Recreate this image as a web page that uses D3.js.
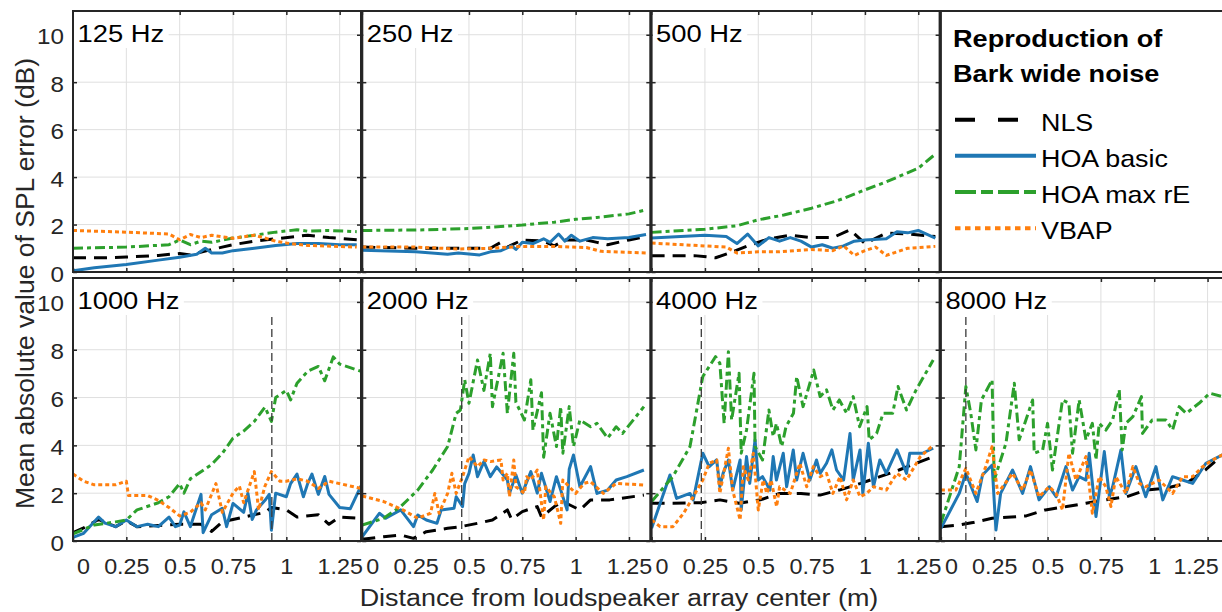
<!DOCTYPE html>
<html>
<head>
<meta charset="utf-8">
<script src="https://cdn.jsdelivr.net/npm/d3@7"></script>
<style>
  body { margin: 0; background: #fff; }
  svg { display: block; }
</style>
</head>
<body>
<svg id="chart" width="1222" height="612"></svg>
<script>
// ---- data (x in m, y in dB) ----
const freqLabels = ["125 Hz", "250 Hz", "500 Hz", "1000 Hz", "2000 Hz", "4000 Hz", "8000 Hz"];
const seriesNames = ["NLS", "HOA basic", "HOA max rE", "VBAP"];
const xTicks = [0, 0.25, 0.5, 0.75, 1, 1.25];
const yTicks = [0, 2, 4, 6, 8, 10];
const markerX = [0.932, 0.466, 0.233, 0.117]; // 1000..8000 Hz

const nls125 = [[0,0.6],[0.15,0.6],[0.25,0.63],[0.4,0.7],[0.5,0.78],[0.55,0.72],[0.65,0.95],[0.75,1.15],[0.85,1.3],[0.95,1.4],[1.05,1.5],[1.1,1.55],[1.2,1.45],[1.33,1.36]];
const hoa125 = [[0,0.05],[0.1,0.18],[0.25,0.32],[0.4,0.5],[0.5,0.62],[0.58,0.75],[0.62,1.0],[0.65,0.8],[0.7,0.8],[0.75,0.9],[0.85,1.0],[0.95,1.12],[1.05,1.2],[1.15,1.2],[1.25,1.15],[1.33,1.15]];
const hoaRe125 = [[0,1.0],[0.25,1.05],[0.45,1.15],[0.5,1.35],[0.55,1.15],[0.6,1.3],[0.65,1.25],[0.75,1.43],[0.85,1.55],[0.95,1.68],[1.05,1.78],[1.1,1.72],[1.2,1.75],[1.33,1.7]];
const vbap125 = [[0,1.75],[0.25,1.68],[0.45,1.6],[0.5,1.36],[0.55,1.58],[0.6,1.45],[0.65,1.55],[0.75,1.42],[0.85,1.55],[0.9,1.43],[0.95,1.3],[1.0,1.22],[1.1,1.12],[1.33,1.05]];

const nls250 = [[0,1.05],[0.25,1.0],[0.45,1.0],[0.6,1.0],[0.65,1.25],[0.68,1.05],[0.75,1.35],[0.85,1.3],[0.9,1.1],[0.95,1.35],[1.05,1.35],[1.1,1.25],[1.15,1.15],[1.25,1.35],[1.33,1.5]];
const hoa250 = [[0,0.92],[0.25,0.85],[0.4,0.75],[0.45,0.8],[0.55,0.72],[0.6,0.85],[0.65,0.9],[0.7,1.1],[0.72,0.95],[0.75,1.25],[0.8,1.2],[0.85,1.4],[0.88,1.25],[0.92,1.6],[0.95,1.3],[0.98,1.55],[1.02,1.3],[1.08,1.45],[1.15,1.4],[1.25,1.45],[1.33,1.58]];
const hoaRe250 = [[0,1.75],[0.25,1.77],[0.5,1.83],[0.75,1.98],[0.9,2.1],[1.0,2.22],[1.1,2.3],[1.25,2.45],[1.33,2.62]];
const vbap250 = [[0,1.05],[0.25,1.05],[0.45,0.97],[0.6,1.0],[0.75,1.08],[0.9,1.08],[1.05,1.03],[1.12,0.87],[1.33,0.8]];

const nls500 = [[0,0.69],[0.2,0.69],[0.3,0.6],[0.38,0.85],[0.45,1.1],[0.55,1.4],[0.65,1.55],[0.75,1.45],[0.85,1.45],[0.93,1.78],[1.0,1.2],[1.1,1.64],[1.2,1.6],[1.33,1.5]];
const hoa500 = [[0,1.43],[0.25,1.55],[0.35,1.5],[0.4,1.2],[0.45,1.6],[0.5,1.1],[0.55,1.45],[0.6,1.3],[0.65,1.45],[0.7,1.3],[0.75,1.05],[0.8,1.15],[0.85,1.0],[0.9,1.1],[0.95,1.3],[1.0,1.35],[1.1,1.4],[1.15,1.7],[1.2,1.65],[1.25,1.75],[1.33,1.43]];
const hoaRe500 = [[0,1.67],[0.25,1.8],[0.4,1.95],[0.5,2.2],[0.62,2.4],[0.75,2.69],[0.87,3.0],[1.0,3.46],[1.1,3.8],[1.25,4.37],[1.33,4.97]];
const vbap500 = [[0,1.22],[0.25,1.1],[0.35,1.05],[0.4,0.8],[0.5,0.85],[0.6,0.85],[0.75,0.95],[0.85,0.9],[0.9,1.1],[0.95,0.7],[1.0,0.9],[1.05,1.05],[1.1,0.7],[1.2,1.0],[1.33,1.08]];

const nls1000 = [[0,0.35],[0.05,0.55],[0.12,0.9],[0.2,0.6],[0.25,0.85],[0.3,0.6],[0.4,0.65],[0.5,0.7],[0.6,0.7],[0.65,0.4],[0.7,0.8],[0.8,1.0],[0.9,1.2],[0.93,1.4],[1.0,1.3],[1.05,1.0],[1.15,1.1],[1.2,0.7],[1.25,1.0],[1.35,0.95]];
const hoa1000 = [[0,0.15],[0.05,0.32],[0.12,1.0],[0.15,0.75],[0.2,0.6],[0.25,0.88],[0.3,0.6],[0.35,0.7],[0.4,0.6],[0.45,1.0],[0.48,0.6],[0.5,0.67],[0.52,1.22],[0.55,0.6],[0.6,1.95],[0.61,0.35],[0.65,1.1],[0.7,1.37],[0.72,0.6],[0.75,1.57],[0.8,1.2],[0.82,2.0],[0.84,0.9],[0.86,1.3],[0.9,1.7],[0.92,1.95],[0.93,0.45],[0.95,2.0],[1.0,1.85],[1.02,2.4],[1.05,2.8],[1.08,1.85],[1.1,2.4],[1.12,2.8],[1.15,1.95],[1.18,2.7],[1.2,1.95],[1.25,1.4],[1.3,1.35],[1.35,2.3]];
const hoaRe1000 = [[0,0.3],[0.1,0.67],[0.2,0.8],[0.25,0.88],[0.3,1.3],[0.4,1.6],[0.45,1.85],[0.5,2.4],[0.52,2.0],[0.55,2.6],[0.6,2.9],[0.65,3.2],[0.7,3.67],[0.75,4.3],[0.8,4.6],[0.85,5.0],[0.9,5.6],[0.93,5.0],[0.95,6.0],[1.0,6.3],[1.02,5.9],[1.05,6.6],[1.1,7.1],[1.15,7.3],[1.18,6.7],[1.22,7.7],[1.25,7.4],[1.35,7.1]];
const vbap1000 = [[0,2.8],[0.05,2.5],[0.1,2.35],[0.2,2.35],[0.25,2.5],[0.26,1.9],[0.35,1.9],[0.4,1.7],[0.45,1.4],[0.5,1.05],[0.55,1.2],[0.6,1.6],[0.62,1.3],[0.67,2.4],[0.7,1.2],[0.75,2.0],[0.78,2.3],[0.8,1.6],[0.85,2.9],[0.87,1.3],[0.9,2.3],[0.93,2.9],[0.97,2.5],[1.0,2.5],[1.05,2.6],[1.1,2.5],[1.15,2.2],[1.2,2.5],[1.35,2.2]];

const nls2000 = [[0,0.07],[0.1,0.18],[0.18,0.25],[0.24,0.11],[0.3,0.39],[0.4,0.53],[0.46,0.6],[0.54,0.74],[0.61,0.88],[0.68,1.3],[0.7,0.9],[0.75,1.23],[0.82,1.44],[0.84,1.0],[0.9,1.44],[0.94,1.65],[1.02,1.3],[1.07,1.72],[1.16,1.72],[1.32,1.92]];
const hoa2000 = [[0,0.18],[0.08,1.16],[0.11,0.95],[0.18,1.3],[0.24,0.6],[0.26,1.09],[0.3,0.88],[0.35,0.74],[0.37,1.3],[0.43,1.37],[0.44,1.85],[0.47,1.44],[0.48,2.4],[0.5,2.83],[0.52,3.6],[0.54,2.69],[0.57,3.32],[0.6,2.69],[0.63,3.1],[0.68,2.55],[0.69,2.0],[0.72,2.76],[0.75,2.0],[0.79,2.9],[0.82,2.0],[0.84,2.83],[0.88,1.65],[0.91,2.69],[0.96,1.3],[0.97,3.0],[0.99,3.6],[1.02,2.27],[1.07,3.11],[1.1,1.99],[1.15,2.13],[1.19,2.55],[1.24,2.69],[1.32,2.97]];
const hoaRe2000 = [[0,0.67],[0.1,0.95],[0.18,1.44],[0.26,2.13],[0.33,2.97],[0.4,3.95],[0.44,5.34],[0.46,5.48],[0.48,6.74],[0.5,5.76],[0.54,7.57],[0.57,6.3],[0.6,7.85],[0.61,5.62],[0.66,7.85],[0.68,5.34],[0.71,7.85],[0.72,5.8],[0.76,5.06],[0.79,6.74],[0.8,4.64],[0.84,6.2],[0.85,3.5],[0.88,5.34],[0.91,3.95],[0.93,5.62],[0.94,3.67],[0.97,5.62],[0.99,3.95],[1.02,5.06],[1.07,4.78],[1.1,4.92],[1.15,4.3],[1.19,4.78],[1.22,4.5],[1.32,5.62]];
const vbap2000 = [[0,1.88],[0.1,1.65],[0.19,1.3],[0.26,0.95],[0.32,1.16],[0.34,1.99],[0.36,1.16],[0.4,1.99],[0.42,2.83],[0.44,1.99],[0.47,2.69],[0.5,3.53],[0.54,3.11],[0.57,3.39],[0.6,3.32],[0.65,3.39],[0.66,2.55],[0.68,2.83],[0.69,1.85],[0.71,3.39],[0.72,2.27],[0.76,1.99],[0.77,2.69],[0.79,2.55],[0.82,2.97],[0.85,0.88],[0.86,2.27],[0.9,1.85],[0.93,0.74],[0.94,2.55],[0.97,2.27],[1.0,1.99],[1.04,2.41],[1.07,2.48],[1.13,1.99],[1.19,2.41],[1.32,2.34]];

const nls4000 = [[0,1.58],[0.1,1.58],[0.23,1.6],[0.32,1.72],[0.41,1.58],[0.51,1.72],[0.6,1.99],[0.7,1.99],[0.79,1.92],[0.88,2.13],[0.98,2.41],[1.07,2.69],[1.16,2.97],[1.26,3.32],[1.32,3.53]];
const hoa4000 = [[0,0.53],[0.086,2.76],[0.117,1.78],[0.18,1.99],[0.195,1.72],[0.24,3.67],[0.27,3.11],[0.305,3.39],[0.32,2.27],[0.335,2.83],[0.36,3.39],[0.38,2.13],[0.415,3.39],[0.42,1.3],[0.445,3.53],[0.46,2.41],[0.485,4.23],[0.5,2.55],[0.52,2.69],[0.555,2.13],[0.57,3.53],[0.585,2.55],[0.617,3.67],[0.633,2.27],[0.664,3.81],[0.68,2.55],[0.71,3.67],[0.742,2.55],[0.773,3.39],[0.79,2.83],[0.82,3.25],[0.845,3.81],[0.867,2.97],[0.9,2.55],[0.93,4.5],[0.945,2.55],[0.977,3.81],[0.99,1.99],[1.016,4.09],[1.04,2.27],[1.07,3.39],[1.1,2.83],[1.15,3.81],[1.195,2.83],[1.21,3.67],[1.27,3.67],[1.32,3.88]];
const hoaRe4000 = [[0,1.65],[0.1,2.7],[0.18,3.95],[0.24,6.88],[0.3,7.71],[0.32,7.43],[0.34,4.92],[0.36,7.92],[0.375,5.06],[0.41,7.02],[0.42,3.67],[0.445,4.64],[0.48,7.02],[0.485,3.95],[0.52,3.39],[0.55,5.48],[0.57,4.37],[0.585,4.92],[0.61,3.95],[0.63,4.78],[0.665,5.34],[0.68,6.88],[0.71,5.62],[0.76,7.15],[0.79,6.04],[0.82,6.32],[0.85,5.48],[0.88,5.9],[0.915,5.34],[0.945,6.04],[0.975,4.78],[1.01,5.62],[1.02,4.23],[1.055,4.5],[1.085,5.34],[1.13,5.34],[1.155,6.46],[1.195,5.48],[1.24,6.32],[1.32,7.57]];
const vbap4000 = [[0,0.88],[0.04,0.6],[0.1,0.6],[0.15,1.16],[0.195,1.85],[0.24,2.55],[0.27,3.25],[0.305,3.39],[0.32,1.99],[0.36,3.88],[0.38,2.13],[0.415,0.88],[0.43,3.11],[0.453,2.55],[0.477,3.67],[0.5,1.3],[0.523,2.55],[0.54,1.99],[0.56,2.55],[0.586,1.44],[0.6,2.27],[0.65,1.99],[0.695,3.25],[0.727,2.27],[0.758,3.11],[0.79,2.69],[0.82,2.83],[0.85,1.99],[0.883,2.69],[0.914,1.72],[0.945,2.55],[0.977,1.85],[1.008,1.99],[1.04,2.27],[1.1,2.13],[1.15,2.83],[1.195,2.55],[1.26,3.53],[1.32,4.0]];

const nls8000 = [[0,0.6],[0.086,0.67],[0.15,0.77],[0.24,0.95],[0.33,1.0],[0.4,1.05],[0.49,1.3],[0.59,1.44],[0.68,1.58],[0.77,1.72],[0.87,1.85],[0.96,2.13],[1.05,2.2],[1.15,2.41],[1.24,2.97],[1.32,3.6]];
const hoa8000 = [[0,0.53],[0.086,1.99],[0.117,2.83],[0.17,1.65],[0.195,2.76],[0.24,3.18],[0.258,0.46],[0.28,1.99],[0.336,2.97],[0.383,1.99],[0.42,3.11],[0.46,1.72],[0.508,2.27],[0.54,1.85],[0.586,3.11],[0.617,2.13],[0.648,2.69],[0.68,2.55],[0.695,3.67],[0.727,1.02],[0.766,3.74],[0.79,1.85],[0.805,2.27],[0.844,3.81],[0.867,1.99],[0.914,3.11],[0.96,1.85],[1.008,3.11],[1.04,1.72],[1.086,2.69],[1.133,2.55],[1.18,2.41],[1.242,3.25],[1.32,3.6]];
const hoaRe8000 = [[0,0.74],[0.086,3.11],[0.117,6.46],[0.14,5.34],[0.164,3.81],[0.19,5.9],[0.24,6.74],[0.25,2.55],[0.305,4.09],[0.344,6.6],[0.367,4.23],[0.43,5.9],[0.4375,3.67],[0.477,3.81],[0.5,4.92],[0.523,2.97],[0.57,5.9],[0.6,5.76],[0.617,3.67],[0.648,5.9],[0.68,4.23],[0.71,4.92],[0.727,3.39],[0.742,4.92],[0.773,4.64],[0.805,5.06],[0.836,6.32],[0.85,3.81],[0.867,4.92],[0.9,5.2],[0.94,6.04],[0.945,4.5],[0.99,5.06],[1.055,5.06],[1.086,4.64],[1.117,5.62],[1.15,5.34],[1.21,5.76],[1.26,6.18],[1.32,6.04]];
const vbap8000 = [[0,2.13],[0.07,2.13],[0.117,3.04],[0.164,1.99],[0.21,3.11],[0.24,3.95],[0.266,1.99],[0.336,2.83],[0.383,2.13],[0.42,2.97],[0.46,1.85],[0.508,2.27],[0.54,1.99],[0.57,1.3],[0.6,3.67],[0.633,2.55],[0.68,3.53],[0.71,1.16],[0.742,2.69],[0.773,2.27],[0.797,1.44],[0.82,2.69],[0.867,1.99],[0.9,3.11],[0.93,2.41],[0.96,2.27],[1.023,2.55],[1.086,1.99],[1.133,2.69],[1.18,2.69],[1.227,3.11],[1.273,3.39],[1.32,3.6]];

// ---- styling ----
const colors = ["#000000", "#1f77b4", "#2ca02c", "#ff7f0e"];
const plotDash = ["13,8", null, "10,4,4,4", "4,3"];
const legendDash = ["20,23", null, "21,5,12,5", "5.5,4.5"];
const FONT = '"Liberation Sans", Arial, Helvetica, sans-serif';
const SX = 1.1; // the original is rendered slightly wide
const AXC = "#262626";

const svg = d3.select("#chart");

const rows = [{ top: 11, bottom: 272 }, { top: 278, bottom: 541 }];
const panelW = 288;
const colLeft = (i) => 73 + i * 289.3;

const panels = [
  { label: freqLabels[0], row: 0, col: 0, series: [nls125, hoa125, hoaRe125, vbap125] },
  { label: freqLabels[1], row: 0, col: 1, series: [nls250, hoa250, hoaRe250, vbap250] },
  { label: freqLabels[2], row: 0, col: 2, series: [nls500, hoa500, hoaRe500, vbap500] },
  { label: freqLabels[3], row: 1, col: 0, series: [nls1000, hoa1000, hoaRe1000, vbap1000], marker: markerX[0] },
  { label: freqLabels[4], row: 1, col: 1, series: [nls2000, hoa2000, hoaRe2000, vbap2000], marker: markerX[1] },
  { label: freqLabels[5], row: 1, col: 2, series: [nls4000, hoa4000, hoaRe4000, vbap4000], marker: markerX[2] },
  { label: freqLabels[6], row: 1, col: 3, series: [nls8000, hoa8000, hoaRe8000, vbap8000], marker: markerX[3] },
];

const defs = svg.append("defs");

panels.forEach((p, pi) => {
  const L = colLeft(p.col);
  const { top, bottom } = rows[p.row];
  const x = d3.scaleLinear().domain([0, 1.35]).range([L, L + panelW]);
  const y = d3.scaleLinear().domain([0, 11]).range([bottom, top]);
  const g = svg.append("g");

  defs.append("clipPath").attr("id", `clip${pi}`)
    .append("rect").attr("x", L).attr("y", top).attr("width", panelW).attr("height", bottom - top);

  // grid
  g.selectAll(".gx").data(xTicks.filter((d) => d > 0)).join("line")
    .attr("x1", (d) => x(d)).attr("x2", (d) => x(d))
    .attr("y1", top).attr("y2", bottom)
    .attr("stroke", "#dfdfdf").attr("stroke-width", 1);
  g.selectAll(".gy").data(yTicks.filter((d) => d > 0)).join("line")
    .attr("x1", L).attr("x2", L + panelW)
    .attr("y1", (d) => y(d)).attr("y2", (d) => y(d))
    .attr("stroke", "#dfdfdf").attr("stroke-width", 1);

  // series
  const line = d3.line().x((d) => x(d[0])).y((d) => y(d[1]));
  g.append("g").attr("clip-path", `url(#clip${pi})`)
    .selectAll("path").data(p.series).join("path")
    .attr("d", line)
    .attr("fill", "none")
    .attr("stroke", (d, i) => colors[i])
    .attr("stroke-width", 3)
    .attr("stroke-linejoin", "round")
    .attr("stroke-dasharray", (d, i) => plotDash[i]);

  // vertical marker
  if (p.marker != null) {
    g.append("line")
      .attr("x1", x(p.marker)).attr("x2", x(p.marker))
      .attr("y1", y(0)).attr("y2", y(9.4))
      .attr("stroke", "#3a3a3a").attr("stroke-width", 1.3)
      .attr("stroke-dasharray", "8,4");
  }

  // axes (inward ticks, MATLAB style)
  const axB = g.append("g").attr("transform", `translate(0,${bottom})`)
    .call(d3.axisBottom(x).tickValues(xTicks).tickSizeInner(-4).tickSizeOuter(0)
      .tickFormat(p.row === 1 ? (d) => String(d) : () => ""));
  const axT = g.append("g").attr("transform", `translate(0,${top})`)
    .call(d3.axisTop(x).tickValues(xTicks).tickSizeInner(-4).tickSizeOuter(0).tickFormat(() => ""));
  const axL = g.append("g").attr("transform", `translate(${L},0)`)
    .call(d3.axisLeft(y).tickValues(yTicks).tickSizeInner(-4).tickSizeOuter(0)
      .tickFormat(p.col === 0 ? (d) => String(d) : () => ""));
  const axR = g.append("g").attr("transform", `translate(${L + panelW},0)`)
    .call(d3.axisRight(y).tickValues(yTicks).tickSizeInner(-4).tickSizeOuter(0).tickFormat(() => ""));

  [axB, axT, axL, axR].forEach((a) => {
    a.select(".domain").remove();
    a.selectAll(".tick line").attr("stroke", AXC).attr("stroke-width", 1.5);
    a.selectAll(".tick text").attr("font-family", FONT).attr("font-size", 22).attr("fill", AXC);
  });
  // first label nudged right, last label of the cut-off panel nudged left
  const xShift = (d) => (d === 0 ? 10 : (p.col === 3 && d === 1.25 ? -12 : 0));
  axB.selectAll(".tick text")
    .attr("y", null).attr("dy", null)
    .attr("transform", (d) => `translate(${xShift(d)},33) scale(1.06,1)`);
  axL.selectAll(".tick text")
    .attr("x", null).attr("dy", null).attr("text-anchor", "end")
    .attr("transform", `translate(-9,9) scale(${SX},1)`);

  // frequency label with white box
  const lab = g.append("text")
    .attr("transform", `translate(${L + 4.5},${top + 30.7}) scale(1.14,1)`)
    .attr("font-family", FONT).attr("font-size", 24).attr("fill", "#000")
    .text(p.label);
  const w = lab.node().getComputedTextLength() * 1.14;
  g.insert("rect", () => lab.node())
    .attr("x", L + 1).attr("y", top + 1)
    .attr("width", w + 8).attr("height", 36)
    .attr("fill", "#fff");

  // box
  g.append("rect")
    .attr("x", L).attr("y", top).attr("width", panelW).attr("height", bottom - top)
    .attr("fill", "none").attr("stroke", AXC).attr("stroke-width", 2);
});

// legend panel (top right)
const LL = colLeft(3);
const leg = svg.append("g");
leg.append("rect")
  .attr("x", LL).attr("y", rows[0].top).attr("width", panelW).attr("height", rows[0].bottom - rows[0].top)
  .attr("fill", "#fff").attr("stroke", AXC).attr("stroke-width", 2);

const titleLines = ["Reproduction of", "Bark wide noise"];
leg.selectAll(".title").data(titleLines).join("text")
  .attr("transform", (d, i) => `translate(953,${46.7 + i * 35}) scale(1.13,1)`)
  .attr("font-family", FONT).attr("font-size", 24).attr("font-weight", "bold").attr("fill", "#000")
  .text((d) => d);

const legBase = [130.7, 166.7, 203, 239.3];
const entry = leg.selectAll(".entry").data(seriesNames).join("g")
  .attr("transform", (d, i) => `translate(0,${legBase[i]})`);
entry.append("line")
  .attr("x1", 955).attr("x2", 1036).attr("y1", -11).attr("y2", -11)
  .attr("stroke", (d, i) => colors[i]).attr("stroke-width", 4)
  .attr("stroke-dasharray", (d, i) => legendDash[i]);
entry.append("text")
  .attr("transform", `translate(1041,0) scale(1.12,1)`)
  .attr("font-family", FONT).attr("font-size", 24).attr("fill", "#000")
  .text((d) => d);

// axis titles
svg.append("text")
  .attr("transform", `translate(33.5,283.5) rotate(-90)`)
  .attr("text-anchor", "middle")
  .attr("font-family", FONT).attr("font-size", 26.5).attr("fill", AXC)
  .text("Mean absolute value of SPL error (dB)");

svg.append("text")
  .attr("transform", `translate(619,606) scale(1.17,1)`)
  .attr("text-anchor", "middle")
  .attr("font-family", FONT).attr("font-size", 23).attr("fill", AXC)
  .text("Distance from loudspeaker array center (m)");
</script>
</body>
</html>
